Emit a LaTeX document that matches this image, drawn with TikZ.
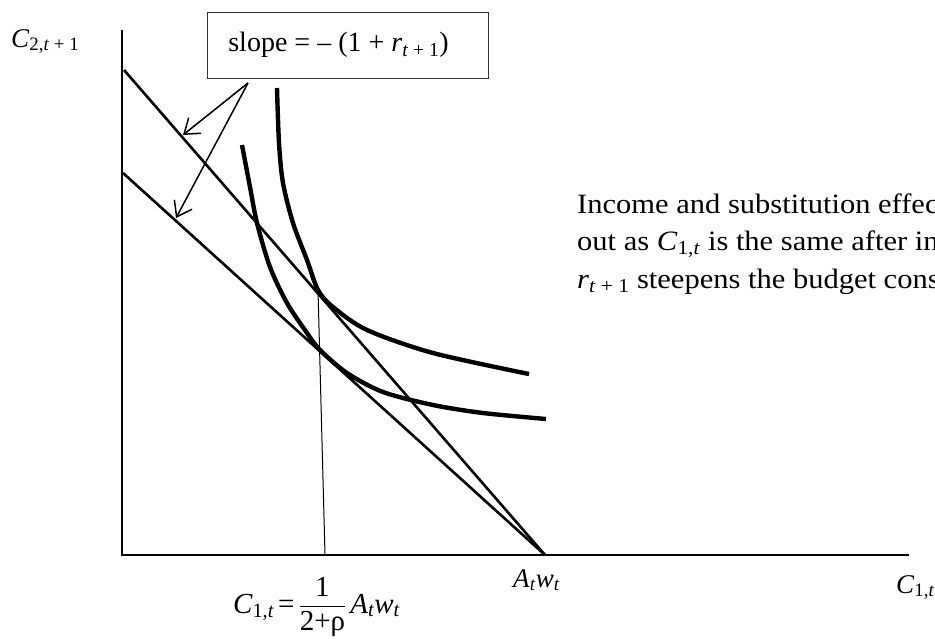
\documentclass[tikz,border=0pt]{standalone}
\usepackage{amsmath}
\usepackage{fontspec}
\setmainfont{Liberation Serif}
\newfontfamily\notefont[FakeStretch=1.09]{Liberation Serif}
\usepackage{tikz}
\usetikzlibrary{arrows.meta}
\tikzset{every node/.style={font=\fontsize{27}{32}\selectfont, inner sep=0pt}}

\begin{document}
\begin{tikzpicture}[x=1pt, y=-1pt,
    axis/.style={line width=1.4pt},
    budget/.style={line width=2.6pt},
    indiff/.style={line width=4.4pt},
    pointer/.style={line width=1.5pt, -{Straight Barb[length=14pt, width=20pt, line width=1.5pt]}},
    lbl/.style={anchor=base west}]
    \useasboundingbox (0,0) rectangle (935,638);
    % axes and budget constraints
    \coordinate (orig) at (122,555);
    \coordinate (ytop) at (122,30);
    \coordinate (xend) at (909,555);
    \coordinate (kink) at (545,555);
    \coordinate (upstart) at (124,70);
    \coordinate (lowstart) at (123,173);
    \draw[axis] (ytop) -- (orig) -- (xend);
    \draw[budget] (upstart) -- (kink);
    \draw[budget] (lowstart) -- (kink);
    % indifference curves
    \draw[indiff] plot[smooth] coordinates {(277,88) (279,143) (283,183) (293,223) (307,260) (318,290) (333,307) (367,330) (433,353) (529,374)};
    \draw[indiff] plot[smooth] coordinates {(242,145) (250,187) (257,223) (270,267) (287,303) (307,333) (320,350) (347,373) (383,392) (433,405) (483,413) (546,419)};
    % optimal C_1
    \coordinate (tang) at (318,290);
    \coordinate (foot) at (325,555);
    \draw[line width=1pt] (tang) -- (foot);
    % slope box and pointers
    \node[draw=black!80, line width=1pt, minimum width=281pt, minimum height=66pt, font=\fontsize{28}{34}\selectfont] (slope) at (347.5,45) {slope = – (1 + \textit{r}\textsubscript{\textit{t} + 1})\kern 18pt};
    \coordinate (src) at (248,83);
    \coordinate (hitup) at (183,135);
    \coordinate (hitlow) at (176,218);
    \draw[pointer] (src) -- (hitup);
    \draw[pointer] (src) -- (hitlow);
    % labels
    \node[lbl] (ylbl) at (11,47) {\textit{C}\textsubscript{2,\textit{t} + 1}};
    \node[lbl] (xlbl) at (896,593) {\textit{C}\textsubscript{1,\textit{t}}};
    \node[lbl] (awlbl) at (513,587) {\textit{A}\textsubscript{\textit{t}}\textit{w}\textsubscript{\textit{t}}};
    \node[lbl, font=\fontsize{29}{34}\selectfont] (c1lbl) at (233,613) {$\textit{C}_{\text{1,}\textit{t}}\,\text{=}\,\dfrac{\text{1}}{\text{2+ρ}}\,\textit{A}_{\textit{t}}\textit{w}_{\textit{t}}$};
    \node[lbl, align=left, font=\notefont\fontsize{28}{37.5}\selectfont] (note) at (577,288) {Income and substitution effec\\out as \textit{C}\textsubscript{1,\textit{t}} is the same after in\\\textit{r}\textsubscript{\textit{t} + 1} steepens the budget const};
\end{tikzpicture}
\end{document}
